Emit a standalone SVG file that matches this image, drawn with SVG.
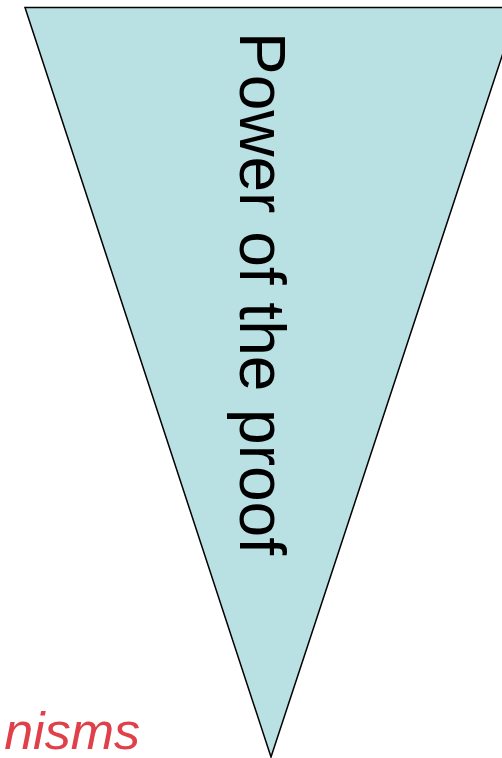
<svg xmlns="http://www.w3.org/2000/svg" width="502" height="758" viewBox="0 0 502 758">
<style>
.tri{fill:#b9e0e3;stroke:#000;stroke-width:1.5;stroke-linejoin:miter}
.lbl{font-family:"Liberation Sans",Arial,sans-serif;font-size:64px;fill:#000}
.red{font-family:"Liberation Sans",Arial,sans-serif;font-size:52px;font-style:italic;fill:#e0404a}
</style>
<rect width="502" height="758" fill="#fff"/>
<g id="triangle">
<polygon class="tri" points="25,7.5 518,7.5 271,757"/>
<text class="lbl" transform="translate(240,32) rotate(90)">Power of the proof</text>
</g>
<g id="caption">
<text class="red" x="140" y="749" text-anchor="end">nisms</text>
</g>
</svg>
